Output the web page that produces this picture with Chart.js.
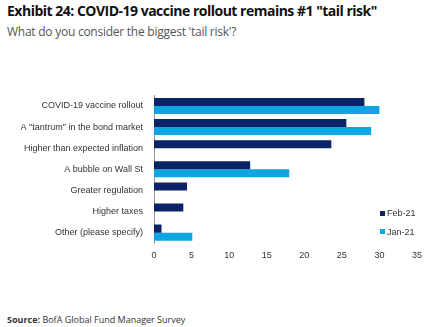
<!DOCTYPE html>
<html>
<head>
<meta charset="utf-8">
<script src="https://cdn.jsdelivr.net/npm/chart.js@4/dist/chart.umd.min.js"></script>
<style>
  html, body { margin: 0; padding: 0; background: #fff; }
  body { width: 435px; height: 327px; position: relative; overflow: hidden; font-family: "Open Sans", sans-serif; }
  #title { position: absolute; left: 7px; top: 1px; font-size: 14px; font-weight: bold; color: #111; letter-spacing: -0.5px; white-space: nowrap; }
  #subtitle { position: absolute; left: 7px; top: 23px; font-size: 12px; color: #555; letter-spacing: -0.25px; white-space: nowrap; }
  #source { position: absolute; left: 7px; top: 313px; font-size: 9px; color: #333; white-space: nowrap; }
  #wrap { position: absolute; left: 0; top: 79px; width: 435px; height: 189px; }
  #legend { position: absolute; left: 380px; top: 208px; font-family: "Liberation Sans", Arial, sans-serif; font-size: 9px; color: #333; }
  .li { display: flex; align-items: center; height: 10px; margin-bottom: 8.5px; }
  .sw { width: 5px; height: 5px; margin-right: 2px; }
</style>
</head>
<body>
<div id="title">Exhibit 24: COVID-19 vaccine rollout remains #1 "tail risk"</div>
<div id="subtitle">What do you consider the biggest 'tail risk'?</div>
<div id="wrap"><canvas id="chart"></canvas></div>
<div id="legend"></div>
<div id="source"><b>Source:</b> BofA Global Fund Manager Survey</div>
<script>
  const categories = [
    'COVID-19 vaccine rollout',
    'A "tantrum" in the bond market',
    'Higher than expected inflation',
    'A bubble on Wall St',
    'Greater regulation',
    'Higher taxes',
    'Other (please specify)'
  ];
  const feb21 = [28, 25.6, 23.6, 12.8, 4.4, 3.9, 1.0];
  const jan21 = [30, 28.9, 0, 18.0, 0, 0, 5.1];
  const xTicks = [0, 5, 10, 15, 20, 25, 30, 35];

  const seriesNames = ['Feb-21', 'Jan-21'];
  const seriesColors = ['#0b2466', '#0ea5e2'];

  // legend
  document.getElementById('legend').innerHTML = seriesNames.map((n, i) =>
    `<div class="li"><span class="sw" style="background:${seriesColors[i]}"></span>${n}</div>`
  ).join('');

  new Chart(document.getElementById('chart'), {
    type: 'bar',
    data: {
      labels: categories,
      datasets: [
        { label: seriesNames[0], data: feb21, backgroundColor: seriesColors[0], categoryPercentage: 0.76, barPercentage: 1.0 },
        { label: seriesNames[1], data: jan21, backgroundColor: seriesColors[1], categoryPercentage: 0.76, barPercentage: 1.0 }
      ]
    },
    options: {
      indexAxis: 'y',
      responsive: true,
      maintainAspectRatio: false,
      animation: false,
      layout: { padding: { top: 3, right: 18, bottom: 0, left: 0 } },
      plugins: { legend: { display: false }, tooltip: { enabled: false } },
      scales: {
        x: {
          min: 0, max: 35,
          afterBuildTicks: axis => { axis.ticks = xTicks.map(v => ({ value: v })); },
          grid: { display: false, drawTicks: false },
          border: { display: false },
          ticks: { color: '#333', padding: 7, font: { family: 'Liberation Sans', size: 9 } }
        },
        y: {
          grid: { display: false, drawTicks: false },
          border: { display: true, color: '#999', width: 1 },
          afterFit: axis => { axis.width = 154; },
          ticks: { color: '#333', padding: 11, font: { family: 'Liberation Sans', size: 9 } }
        }
      }
    }
  });
</script>
</body>
</html>
